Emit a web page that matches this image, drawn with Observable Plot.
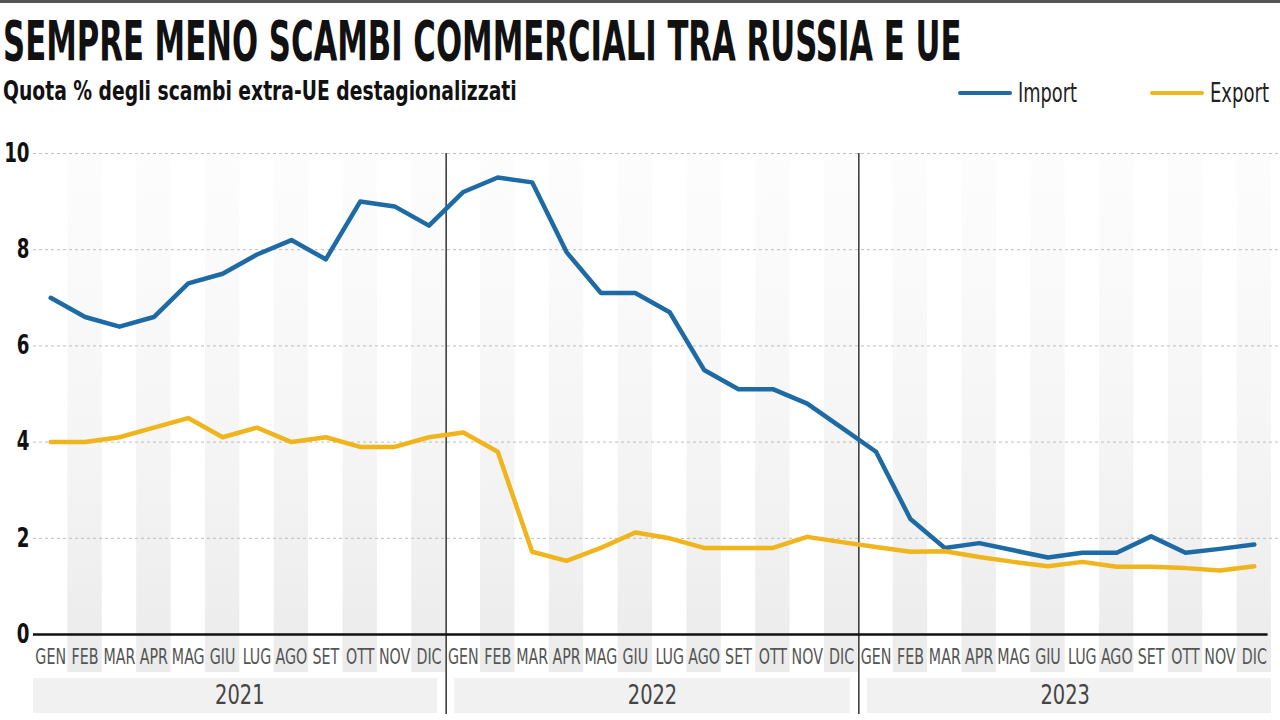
<!DOCTYPE html>
<html>
<head>
<meta charset="utf-8">
<script src="https://cdn.jsdelivr.net/npm/d3@7"></script>
<script src="https://cdn.jsdelivr.net/npm/@observablehq/plot@0.6"></script>
<style>
  html, body { margin:0; padding:0; background:#fff; }
  #wrap { width:1280px; height:720px; overflow:hidden; position:relative; }
  #wrap svg { display:block; }
  .cond { font-family: "Liberation Sans Narrow", "DejaVu Sans Condensed", "Roboto Condensed", "Liberation Sans", sans-serif; }
</style>
</head>
<body>
<div id="wrap">
  <svg id="header" width="1280" height="120" class="cond">
    <rect x="0" y="0" width="1280" height="3" fill="#555"></rect>
    <text id="title" x="3" y="60" font-size="55" font-weight="bold" fill="#111">SEMPRE MENO SCAMBI COMMERCIALI TRA RUSSIA E UE</text>
    <text id="subtitle" x="3" y="100" font-size="27" font-weight="bold" fill="#111">Quota % degli scambi extra-UE destagionalizzati</text>
    <g id="legend"></g>
  </svg>
  <div id="chart"></div>
</div>
<script>
const months = ["GEN","FEB","MAR","APR","MAG","GIU","LUG","AGO","SET","OTT","NOV","DIC"];
const years = ["2021","2022","2023"];
const importValues = [
  7.0, 6.6, 6.4, 6.6, 7.3, 7.5, 7.9, 8.2, 7.8, 9.0, 8.9, 8.5,
  9.2, 9.5, 9.4, 7.95, 7.1, 7.1, 6.7, 5.5, 5.1, 5.1, 4.8, 4.3,
  3.8, 2.4, 1.8, 1.9, 1.75, 1.6, 1.7, 1.7, 2.04, 1.7, 1.78, 1.87
];
const exportValues = [
  4.0, 4.0, 4.1, 4.3, 4.5, 4.1, 4.3, 4.0, 4.1, 3.9, 3.9, 4.1,
  4.2, 3.8, 1.72, 1.53, 1.8, 2.12, 2.0, 1.8, 1.8, 1.8, 2.03, 1.92,
  1.82, 1.72, 1.73, 1.61, 1.51, 1.42, 1.51, 1.41, 1.41, 1.38, 1.33, 1.42
];
const series = [
  {name: "Import", color: "#1d6aa5", values: importValues},
  {name: "Export", color: "#f0b41c", values: exportValues}
];
const yTicks = [0, 2, 4, 6, 8, 10];

// fit a header text to a target width by adjusting its font size, keeping the original cap height
function fitText(el, targetWidth) {
  const w = el.getComputedTextLength();
  const fs = parseFloat(el.getAttribute("font-size"));
  const nfs = fs * targetWidth / w;
  el.setAttribute("font-size", nfs.toFixed(2));
  const sy = fs / nfs;
  const y = parseFloat(el.getAttribute("y"));
  el.setAttribute("transform", `translate(0,${y}) scale(1,${sy.toFixed(3)}) translate(0,${-y})`);
}
fitText(document.getElementById("title"), 959);
fitText(document.getElementById("subtitle"), 514);

const W = 1280, H = 600, mT = 33, mB = 86, mL = 33, mR = 9;
const pxPerUnit = (H - mT - mB) / 10;
const px2v = px => -px / pxPerUnit;          // pixels below the zero line -> data units
const bandBottom = px2v(38);
const yearTop = px2v(44), yearBottom = px2v(79);
const yearLabelY = px2v(61);
const sepBottom = px2v(80);

const monthIdx = d3.range(36);
const shaded = monthIdx.filter(i => i % 2 === 1);
const rows = s => s.values.map((v, i) => ({i, v, serie: s.name}));

const yearRects = years.map((y, k) => ({
  year: y,
  x1: k === 0 ? -0.5 : 12 * k - 0.25,
  x2: k === 2 ? 35.5 : 12 * k + 11.25,
  xc: 12 * k + 5.5
}));

const font = '"Liberation Sans Narrow", "DejaVu Sans Condensed", "Liberation Sans", sans-serif';

const chart = Plot.plot({
  width: W, height: H, marginTop: mT, marginBottom: mB, marginLeft: mL, marginRight: mR,
  style: {fontFamily: font, background: "#fff", overflow: "visible"},
  x: {type: "linear", domain: [-0.5, 35.5]},
  y: {domain: [0, 10]},
  marks: [
    Plot.rect(shaded, {x1: i => i - 0.5, x2: i => i + 0.5, y1: bandBottom, y2: 10, fill: "url(#bandGrad)"}),
    Plot.rect(yearRects, {x1: "x1", x2: "x2", y1: yearTop, y2: yearBottom, fill: "#f1f1f1"}),
    Plot.ruleY(yTicks.filter(t => t > 0), {x1: -0.5, x2: 36, stroke: "#bdbdbd", strokeDasharray: "3,3", strokeWidth: 1}),
    Plot.ruleX([11.5, 23.5], {y1: 10, y2: sepBottom, stroke: "#333", strokeWidth: 1.5}),
    Plot.ruleY([0], {x1: -0.5, x2: 35.4, stroke: "#111", strokeWidth: 2.5}),
    ...series.map(s => Plot.line(rows(s), {x: "i", y: "v", stroke: s.color, strokeWidth: 4.5, strokeLinejoin: "round", strokeLinecap: "round"})),
    Plot.text(yearRects, {x: "xc", y: yearLabelY, text: "year", fontSize: 27, fill: "#444", className: "yearlbl"}),
    Plot.axisY(yTicks, {tickSize: 0, tickPadding: 4, fontSize: 26, fontWeight: "bold", fill: "#111", label: null, tickFormat: d => String(d)}),
    Plot.axisX(monthIdx, {tickSize: 0, tickPadding: 14, fontSize: 22, fill: "#555", label: null, tickFormat: i => months[i % 12]})
  ]
});

// gradient for the alternating month bands
const ns = "http://www.w3.org/2000/svg";
const defs = document.createElementNS(ns, "defs");
defs.innerHTML = '<linearGradient id="bandGrad" x1="0" y1="0" x2="0" y2="1">' +
  '<stop offset="0" stop-color="#fdfdfd"/><stop offset="0.55" stop-color="#f5f5f5"/><stop offset="1" stop-color="#ebebeb"/></linearGradient>';
chart.insertBefore(defs, chart.firstChild);

// condense labels horizontally (the reference uses a very narrow typeface)
const squeeze = (sel, k) => chart.querySelectorAll(sel).forEach(t => {
  const tr = t.getAttribute("transform") || "";
  t.setAttribute("transform", tr + ` scale(${k},1)`);
});
squeeze('[aria-label="x-axis tick label"] text', 0.72);
squeeze('[aria-label="y-axis tick label"] text', 0.78);
squeeze('.yearlbl text', 0.8);

document.getElementById("chart").appendChild(chart);

// legend
const lg = d3.select("#legend");
const legendPos = [{x: 960, tx: 1018}, {x: 1152, tx: 1210}];
series.forEach((s, k) => {
  lg.append("line").attr("x1", legendPos[k].x).attr("x2", legendPos[k].x + 50)
    .attr("y1", 93).attr("y2", 93).attr("stroke", s.color).attr("stroke-width", 4).attr("stroke-linecap", "round");
  const t = lg.append("text").attr("x", legendPos[k].tx).attr("y", 102).attr("font-size", 26).attr("fill", "#222").text(s.name);
  fitText(t.node(), 59);
});
</script>
</body>
</html>
